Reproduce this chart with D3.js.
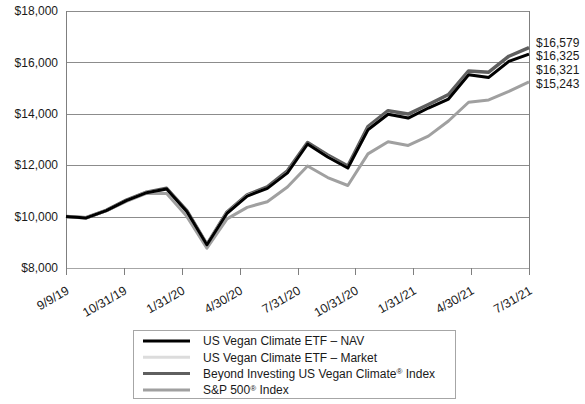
<!DOCTYPE html>
<html>
<head>
<meta charset="utf-8">
<script src="https://cdn.jsdelivr.net/npm/d3@7"></script>
<style>
  html, body { margin: 0; padding: 0; background: #fff; }
  svg { display: block; font-family: "Liberation Sans", Arial, sans-serif; }
</style>
</head>
<body>
<svg id="chart" width="585" height="404"></svg>
<script>
// ---- data ----
const dates = ["9/9/19","9/30/19","10/31/19","11/30/19","12/31/19","1/31/20","2/29/20","3/31/20",
  "4/30/20","5/31/20","6/30/20","7/31/20","8/31/20","9/30/20","10/31/20","11/30/20","12/31/20",
  "1/31/21","2/28/21","3/31/21","4/30/21","5/31/21","6/30/21","7/31/21"];
const navValues = [10000, 9950, 10230, 10620, 10930, 11075, 10200, 8905, 10130, 10800, 11100, 11700,
  12825, 12320, 11890, 13380, 13980, 13835, 14225, 14575, 15520, 15415, 16040, 16325];
const marketValues = [10000, 9960, 10230, 10610, 10940, 11060, 10180, 8920, 10140, 10810, 11090, 11710,
  12810, 12330, 11880, 13390, 13990, 13830, 14230, 14570, 15530, 15410, 16050, 16321];
const indexValues = [10000, 9955, 10240, 10640, 10950, 11100, 10230, 8920, 10180, 10850, 11160, 11780,
  12880, 12400, 11970, 13500, 14120, 13990, 14360, 14750, 15670, 15620, 16240, 16579];
const spValues = [10000, 9960, 10220, 10590, 10900, 10900, 10010, 8770, 9910, 10360, 10580, 11150,
  11970, 11520, 11210, 12440, 12910, 12770, 13130, 13720, 14450, 14540, 14870, 15243];
const xTickLabels = ["9/9/19","10/31/19","1/31/20","4/30/20","7/31/20","10/31/20","1/31/21","4/30/21","7/31/21"];
const yTicks = [8000, 10000, 12000, 14000, 16000, 18000];
const seriesNames = ["US Vegan Climate ETF \u2013 NAV", "US Vegan Climate ETF \u2013 Market",
  "Beyond Investing US Vegan Climate\u00AE Index", "S&P 500\u00AE Index"];
const endLabels = ["$16,579", "$16,325", "$16,321", "$15,243"];

// ---- layout ----
const L = 66, R = 529, T = 11, B = 268;
const svg = d3.select("#chart");
const x = d3.scalePoint().domain(d3.range(dates.length)).range([L, R]);
const xt = d3.scaleLinear().domain([0, xTickLabels.length - 1]).range([L, R]);
const y = d3.scaleLinear().domain([8000, 18000]).range([B, T]);

// gridlines
svg.append("g").selectAll("line").data(yTicks).join("line")
  .attr("x1", L).attr("x2", R)
  .attr("y1", d => Math.round(y(d)) + 0.5).attr("y2", d => Math.round(y(d)) + 0.5)
  .attr("stroke", d => d === 8000 ? "#a6a6a6" : "#8c8c8c").attr("stroke-width", 1);

// left axis & right border
svg.append("line").attr("x1", L + 0.5).attr("x2", L + 0.5).attr("y1", T).attr("y2", B + 1)
  .attr("stroke", "#7f7f7f");
svg.append("line").attr("x1", R + 0.5).attr("x2", R + 0.5).attr("y1", T).attr("y2", B + 1)
  .attr("stroke", "#7f7f7f");

// y labels
svg.append("g").selectAll("text").data(yTicks).join("text")
  .attr("x", 58).attr("y", d => y(d)).attr("dy", "0.35em")
  .attr("text-anchor", "end").attr("font-size", 12).attr("fill", "#1a1a1a")
  .text(d => d3.format("$,")(d));

// x ticks
svg.append("g").selectAll("line").data(xTickLabels).join("line")
  .attr("x1", (d, i) => Math.round(xt(i)) + 0.5).attr("x2", (d, i) => Math.round(xt(i)) + 0.5)
  .attr("y1", B).attr("y2", B + 7).attr("stroke", "#7f7f7f");
svg.append("g").selectAll("text").data(xTickLabels).join("text")
  .attr("transform", (d, i) => `translate(${xt(i) + 4},${B + 25}) rotate(-30)`)
  .attr("text-anchor", "end").attr("font-size", 12.5).attr("fill", "#1a1a1a")
  .text(d => d);

// lines
const line = d3.line().x((d, i) => x(i)).y(d => y(d));
const series = [
  { vals: spValues, color: "#a0a0a0", w: 3 },
  { vals: indexValues, color: "#5f5f5f", w: 3.5 },
  { vals: marketValues, color: "#dcdcdc", w: 3 },
  { vals: navValues, color: "#000000", w: 3 }
];
svg.append("g").selectAll("path").data(series).join("path")
  .attr("d", d => line(d.vals)).attr("fill", "none")
  .attr("stroke", d => d.color).attr("stroke-width", d => d.w)
  .attr("stroke-linejoin", "round");

// end labels
svg.append("g").selectAll("text").data(endLabels).join("text")
  .attr("x", 536).attr("y", (d, i) => 42.3 + i * 13.7).attr("dy", "0.35em")
  .attr("font-size", 12).attr("fill", "#1a1a1a").text(d => d);

// legend
const lg = svg.append("g");
lg.append("rect").attr("x", 133.5).attr("y", 330.5).attr("width", 322).attr("height", 68)
  .attr("fill", "#fff").attr("stroke", "#a6a6a6");
const legColors = ["#000000", "#dcdcdc", "#5f5f5f", "#a0a0a0"];
const rows = lg.selectAll("g.row").data(seriesNames).join("g").attr("class", "row")
  .attr("transform", (d, i) => `translate(0,${341 + i * 16.3})`);
rows.append("line").attr("x1", 143).attr("x2", 190).attr("y1", 0).attr("y2", 0)
  .attr("stroke", (d, i) => legColors[i]).attr("stroke-width", 3);
rows.append("text").attr("x", 203).attr("y", 0).attr("dy", "0.35em")
  .attr("font-size", 12).attr("fill", "#1a1a1a")
  .each(function(d) {
    const t = d3.select(this);
    const parts = d.split("\u00AE");
    t.append("tspan").text(parts[0]);
    if (parts.length > 1) {
      t.append("tspan").attr("font-size", 8).attr("dy", "-0.45em").text("\u00AE");
      t.append("tspan").attr("dy", "0.3em").text(parts[1]);
    }
  });
</script>
</body>
</html>
